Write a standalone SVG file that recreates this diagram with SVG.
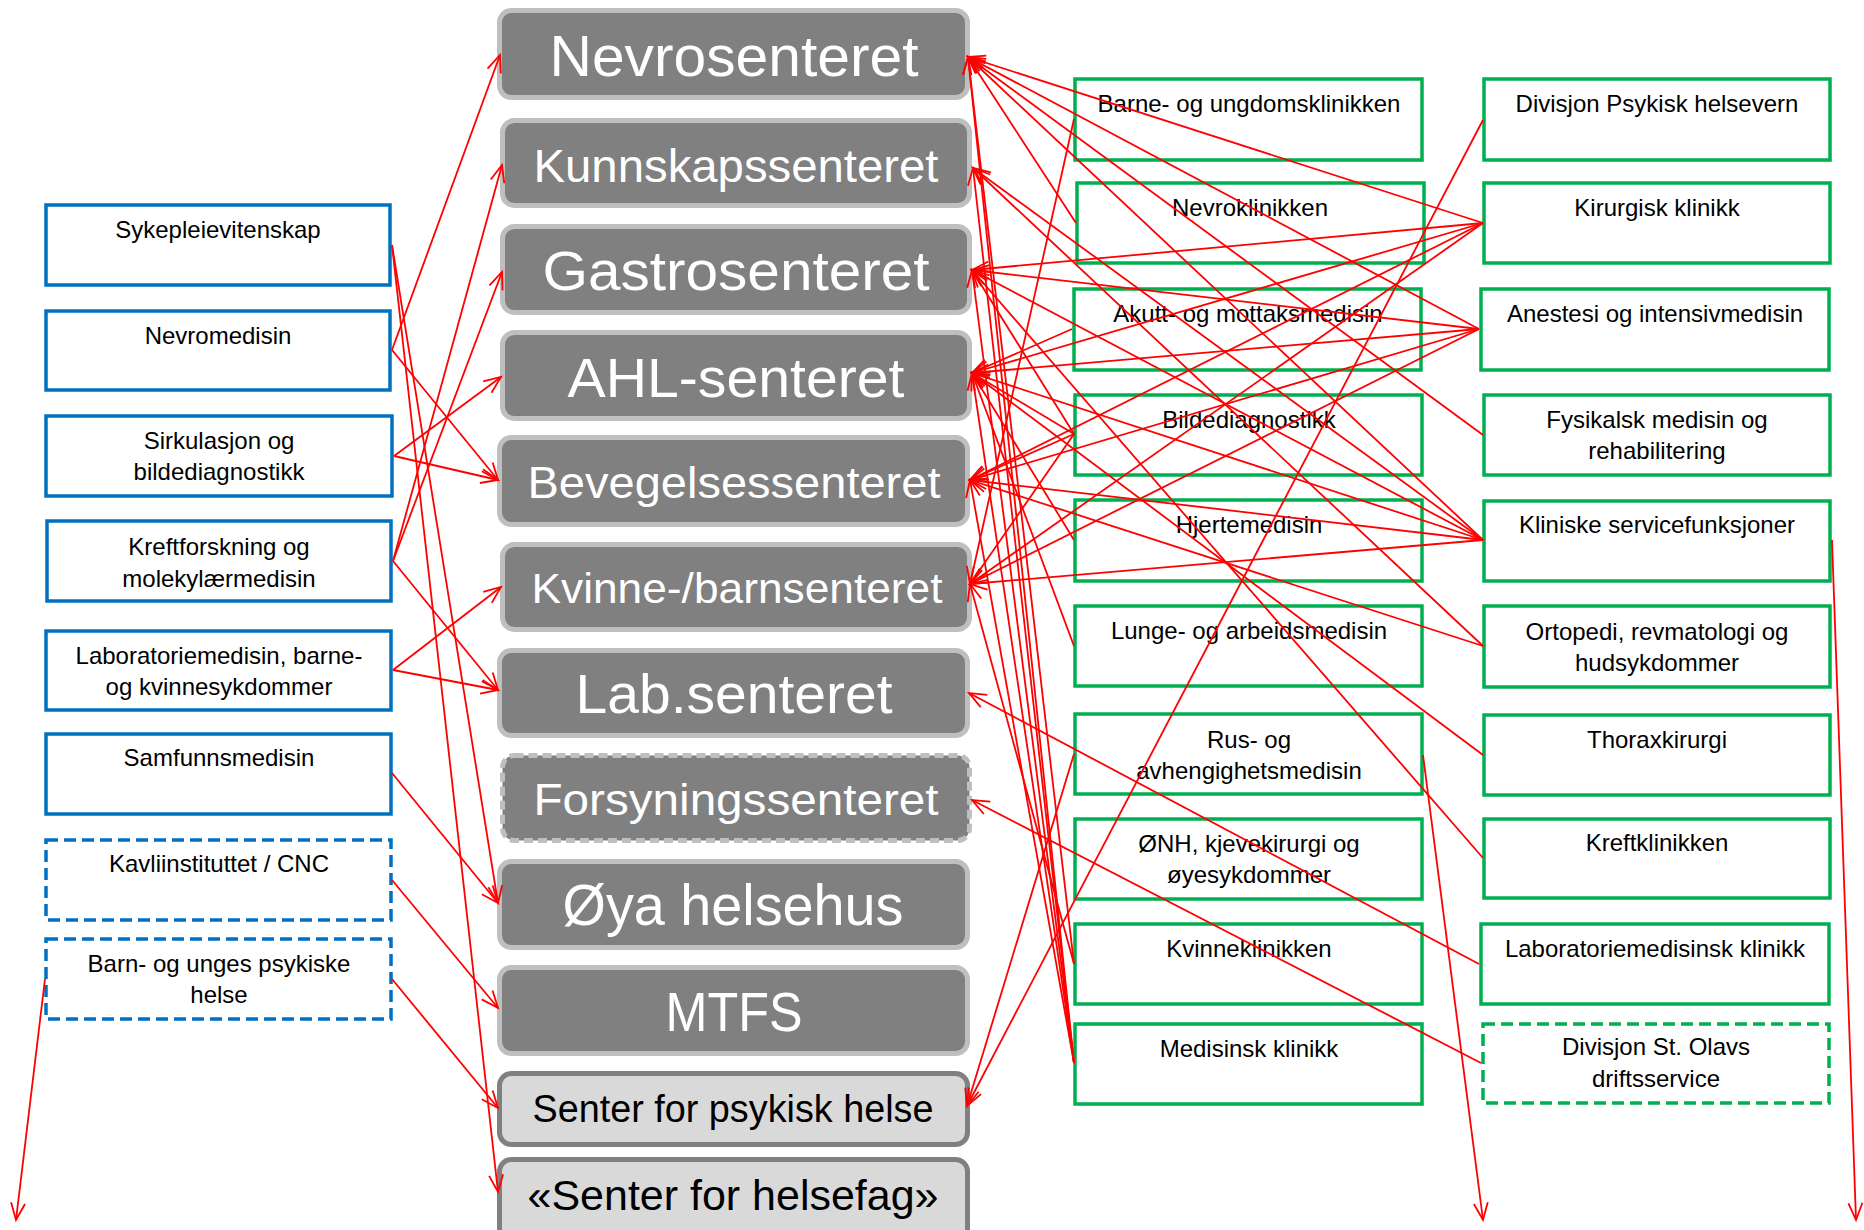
<svg xmlns="http://www.w3.org/2000/svg" width="1864" height="1230" viewBox="0 0 1864 1230">
<defs>
<marker id="ah" markerUnits="userSpaceOnUse" markerWidth="22" markerHeight="22" viewBox="0 0 22 22" refX="19" refY="11" orient="auto">
<path d="M2,4 L19,11 L2,18" fill="none" stroke="#FF0000" stroke-width="1.8"/>
</marker>
</defs>
<style>
text{font-family:"Liberation Sans",Arial,sans-serif}
.blue rect{fill:#FFFFFF;stroke:#0070C0;stroke-width:3.5}
.green rect{fill:#FFFFFF;stroke:#00B050;stroke-width:3.5}
.dash rect{stroke-dasharray:12 6}
.ctr rect{fill:#808080;stroke:#BFBFBF;stroke-width:5}
.lt rect{fill:#D9D9D9;stroke:#808080;stroke-width:5}
.fdash rect{stroke-dasharray:9 5}
.lbl{font-size:24px;fill:#000000;text-anchor:middle}
.big{fill:#FFFFFF;text-anchor:middle}
.bigd{fill:#000000;text-anchor:middle}
.conn line{stroke:#FF0000;stroke-width:1.8;fill:none;marker-end:url(#ah)}
</style>
<rect x="0" y="0" width="1864" height="1230" fill="#FFFFFF"/>

<g id="centers">
<g id="c-nevro" class="ctr"><rect x="499.5" y="10.5" width="468" height="87" rx="12"/><text class="big" x="734" y="76" font-size="57" textLength="369" lengthAdjust="spacingAndGlyphs">Nevrosenteret</text></g>
<g id="c-kunnskap" class="ctr"><rect x="502.5" y="120.5" width="467" height="85" rx="12"/><text class="big" x="736" y="182" font-size="47" textLength="405" lengthAdjust="spacingAndGlyphs">Kunnskapssenteret</text></g>
<g id="c-gastro" class="ctr"><rect x="502.5" y="226.5" width="467" height="86" rx="12"/><text class="big" x="736" y="290" font-size="56" textLength="387" lengthAdjust="spacingAndGlyphs">Gastrosenteret</text></g>
<g id="c-ahl" class="ctr"><rect x="502.5" y="332.5" width="467" height="86" rx="12"/><text class="big" x="736" y="397" font-size="56" textLength="337" lengthAdjust="spacingAndGlyphs">AHL-senteret</text></g>
<g id="c-bevegelse" class="ctr"><rect x="499.5" y="437.5" width="468" height="87" rx="12"/><text class="big" x="734" y="498" font-size="44" textLength="413" lengthAdjust="spacingAndGlyphs">Bevegelsessenteret</text></g>
<g id="c-kvinnebarn" class="ctr"><rect x="502.5" y="544.5" width="467" height="85" rx="12"/><text class="big" x="737" y="603" font-size="42" textLength="411" lengthAdjust="spacingAndGlyphs">Kvinne-/barnsenteret</text></g>
<g id="c-lab" class="ctr"><rect x="499.5" y="650.5" width="468" height="85" rx="12"/><text class="big" x="734" y="713" font-size="56" textLength="317" lengthAdjust="spacingAndGlyphs">Lab.senteret</text></g>
<g id="c-forsyning" class="ctr fdash"><rect x="502.5" y="755.5" width="467" height="85" rx="12"/><text class="big" x="736" y="815" font-size="45" textLength="405" lengthAdjust="spacingAndGlyphs">Forsyningssenteret</text></g>
<g id="c-oya" class="ctr"><rect x="499.5" y="861.5" width="468" height="86" rx="12"/><text class="big" x="733" y="925" font-size="58" textLength="341" lengthAdjust="spacingAndGlyphs">Øya helsehus</text></g>
<g id="c-mtfs" class="ctr"><rect x="499.5" y="967.5" width="468" height="86" rx="12"/><text class="big" x="734" y="1031" font-size="55" textLength="137" lengthAdjust="spacingAndGlyphs">MTFS</text></g>
<g id="c-psykisk" class="lt"><rect x="499.5" y="1073.5" width="468" height="71" rx="12"/><text class="bigd" x="733" y="1122" font-size="38" textLength="401" lengthAdjust="spacingAndGlyphs">Senter for psykisk helse</text></g>
<g id="c-helsefag" class="lt"><rect x="499.5" y="1159.5" width="468" height="92" rx="12"/><text class="bigd" x="733" y="1210" font-size="42" textLength="411" lengthAdjust="spacingAndGlyphs">«Senter for helsefag»</text></g>
</g>

<g id="institutes">
<g id="i-syk" class="blue"><rect x="46" y="205" width="344" height="80"/><text class="lbl" x="218" y="238">Sykepleievitenskap</text></g>
<g id="i-nevromed" class="blue"><rect x="46" y="311" width="344" height="79"/><text class="lbl" x="218" y="344">Nevromedisin</text></g>
<g id="i-sirk" class="blue"><rect x="46" y="416" width="346" height="80"/><text class="lbl" x="219" y="449">Sirkulasjon og</text><text class="lbl" x="219" y="480">bildediagnostikk</text></g>
<g id="i-kreft" class="blue"><rect x="47" y="521" width="344" height="80"/><text class="lbl" x="219" y="555">Kreftforskning og</text><text class="lbl" x="219" y="587">molekylærmedisin</text></g>
<g id="i-labmed" class="blue"><rect x="46" y="631" width="345" height="79"/><text class="lbl" x="219" y="664">Laboratoriemedisin, barne-</text><text class="lbl" x="219" y="695">og kvinnesykdommer</text></g>
<g id="i-samfunn" class="blue"><rect x="46" y="734" width="345" height="80"/><text class="lbl" x="219" y="766">Samfunnsmedisin</text></g>
<g id="i-kavli" class="blue dash"><rect x="46" y="840" width="345" height="80"/><text class="lbl" x="219" y="872">Kavliinstituttet / CNC</text></g>
<g id="i-barn" class="blue dash"><rect x="46" y="939" width="345" height="80"/><text class="lbl" x="219" y="972">Barn- og unges psykiske</text><text class="lbl" x="219" y="1003">helse</text></g>
</g>

<g id="clinics">
<g id="k-barne" class="green"><rect x="1075" y="79" width="347" height="81"/><text class="lbl" x="1249" y="112">Barne- og ungdomsklinikken</text></g>
<g id="k-nevro" class="green"><rect x="1077" y="183" width="347" height="80"/><text class="lbl" x="1250" y="216">Nevroklinikken</text></g>
<g id="k-akutt" class="green"><rect x="1074" y="289" width="347" height="81"/><text class="lbl" x="1248" y="322">Akutt- og mottaksmedisin</text></g>
<g id="k-bilde" class="green"><rect x="1075" y="395" width="347" height="80"/><text class="lbl" x="1249" y="428">Bildediagnostikk</text></g>
<g id="k-hjerte" class="green"><rect x="1075" y="500" width="347" height="81"/><text class="lbl" x="1249" y="533">Hjertemedisin</text></g>
<g id="k-lunge" class="green"><rect x="1075" y="606" width="347" height="80"/><text class="lbl" x="1249" y="639">Lunge- og arbeidsmedisin</text></g>
<g id="k-rus" class="green"><rect x="1075" y="714" width="347" height="80"/><text class="lbl" x="1249" y="748">Rus- og</text><text class="lbl" x="1249" y="779">avhengighetsmedisin</text></g>
<g id="k-onh" class="green"><rect x="1075" y="819" width="347" height="80"/><text class="lbl" x="1249" y="852">ØNH, kjevekirurgi og</text><text class="lbl" x="1249" y="883">øyesykdommer</text></g>
<g id="k-kvinne" class="green"><rect x="1075" y="924" width="347" height="80"/><text class="lbl" x="1249" y="957">Kvinneklinikken</text></g>
<g id="k-medisinsk" class="green"><rect x="1075" y="1024" width="347" height="80"/><text class="lbl" x="1249" y="1057">Medisinsk klinikk</text></g>

<g id="k-divpsyk" class="green"><rect x="1484" y="79" width="346" height="81"/><text class="lbl" x="1657" y="112">Divisjon Psykisk helsevern</text></g>
<g id="k-kirurg" class="green"><rect x="1484" y="183" width="346" height="80"/><text class="lbl" x="1657" y="216">Kirurgisk klinikk</text></g>
<g id="k-anestesi" class="green"><rect x="1481" y="289" width="348" height="81"/><text class="lbl" x="1655" y="322">Anestesi og intensivmedisin</text></g>
<g id="k-fysik" class="green"><rect x="1484" y="395" width="346" height="80"/><text class="lbl" x="1657" y="428">Fysikalsk medisin og</text><text class="lbl" x="1657" y="459">rehabilitering</text></g>
<g id="k-kliniske" class="green"><rect x="1484" y="501" width="346" height="80"/><text class="lbl" x="1657" y="533">Kliniske servicefunksjoner</text></g>
<g id="k-ortopedi" class="green"><rect x="1484" y="606" width="346" height="81"/><text class="lbl" x="1657" y="640">Ortopedi, revmatologi og</text><text class="lbl" x="1657" y="671">hudsykdommer</text></g>
<g id="k-thorax" class="green"><rect x="1484" y="715" width="346" height="80"/><text class="lbl" x="1657" y="748">Thoraxkirurgi</text></g>
<g id="k-kreft" class="green"><rect x="1484" y="819" width="346" height="79"/><text class="lbl" x="1657" y="851">Kreftklinikken</text></g>
<g id="k-labmed" class="green"><rect x="1481" y="924" width="348" height="80"/><text class="lbl" x="1655" y="957">Laboratoriemedisinsk klinikk</text></g>
<g id="k-drift" class="green dash"><rect x="1483" y="1024" width="346" height="79"/><text class="lbl" x="1656" y="1055">Divisjon St. Olavs</text><text class="lbl" x="1656" y="1087">driftsservice</text></g>
</g>

<g id="connectors" class="conn">
<line x1="392" y1="245" x2="498" y2="903"/>
<line x1="392" y1="245" x2="498" y2="1192"/>
<line x1="392" y1="350" x2="500" y2="55"/>
<line x1="392" y1="350" x2="498" y2="480"/>
<line x1="394" y1="456" x2="501" y2="377"/>
<line x1="394" y1="456" x2="498" y2="480"/>
<line x1="393" y1="561" x2="502" y2="165"/>
<line x1="393" y1="561" x2="502" y2="272"/>
<line x1="393" y1="561" x2="498" y2="690"/>
<line x1="393" y1="670" x2="501" y2="587"/>
<line x1="393" y1="670" x2="498" y2="690"/>
<line x1="392" y1="773" x2="498" y2="903"/>
<line x1="392" y1="880" x2="498" y2="1008"/>
<line x1="392" y1="979" x2="498" y2="1108"/>
<line x1="45" y1="979" x2="16" y2="1220"/>

<line x1="1483" y1="120" x2="967" y2="1106"/>
<line x1="1074" y1="754" x2="967" y2="1106"/>
<line x1="1479" y1="964" x2="969" y2="693"/>
<line x1="1481" y1="1063" x2="972" y2="800"/>
<line x1="1074" y1="119" x2="970" y2="584"/>
<line x1="1074" y1="964" x2="970" y2="584"/>
<line x1="1483" y1="540" x2="970" y2="584"/>
<line x1="1483" y1="540" x2="970" y2="480"/>
<line x1="1483" y1="540" x2="972" y2="373"/>
<line x1="1483" y1="540" x2="972" y2="270"/>
<line x1="1483" y1="540" x2="973" y2="168"/>
<line x1="1483" y1="540" x2="968" y2="57"/>
<line x1="1483" y1="223" x2="968" y2="57"/>
<line x1="1483" y1="223" x2="972" y2="270"/>
<line x1="1483" y1="223" x2="972" y2="373"/>
<line x1="1483" y1="223" x2="970" y2="480"/>
<line x1="1483" y1="223" x2="970" y2="584"/>
<line x1="1479" y1="329" x2="968" y2="57"/>
<line x1="1479" y1="329" x2="972" y2="270"/>
<line x1="1479" y1="329" x2="972" y2="373"/>
<line x1="1479" y1="329" x2="970" y2="480"/>
<line x1="1479" y1="329" x2="970" y2="584"/>
<line x1="1483" y1="435" x2="968" y2="57"/>
<line x1="1483" y1="646" x2="973" y2="168"/>
<line x1="1483" y1="646" x2="970" y2="480"/>
<line x1="1483" y1="755" x2="972" y2="373"/>
<line x1="1483" y1="858" x2="972" y2="270"/>
<line x1="1076" y1="223" x2="968" y2="57"/>
<line x1="1072" y1="329" x2="972" y2="373"/>
<line x1="1074" y1="434" x2="972" y2="270"/>
<line x1="1074" y1="434" x2="972" y2="373"/>
<line x1="1074" y1="434" x2="970" y2="480"/>
<line x1="1074" y1="434" x2="970" y2="584"/>
<line x1="1074" y1="540" x2="972" y2="373"/>
<line x1="1074" y1="646" x2="972" y2="373"/>
<line x1="1074" y1="1063" x2="968" y2="57"/>
<line x1="1074" y1="1063" x2="973" y2="168"/>
<line x1="1074" y1="1063" x2="972" y2="270"/>
<line x1="1074" y1="1063" x2="972" y2="373"/>
<line x1="1074" y1="1063" x2="970" y2="480"/>
<line x1="1074" y1="964" x2="968" y2="57"/>
<line x1="1423" y1="755" x2="1483" y2="1220"/>
<line x1="1832" y1="540" x2="1856" y2="1220"/>
</g>
</svg>
